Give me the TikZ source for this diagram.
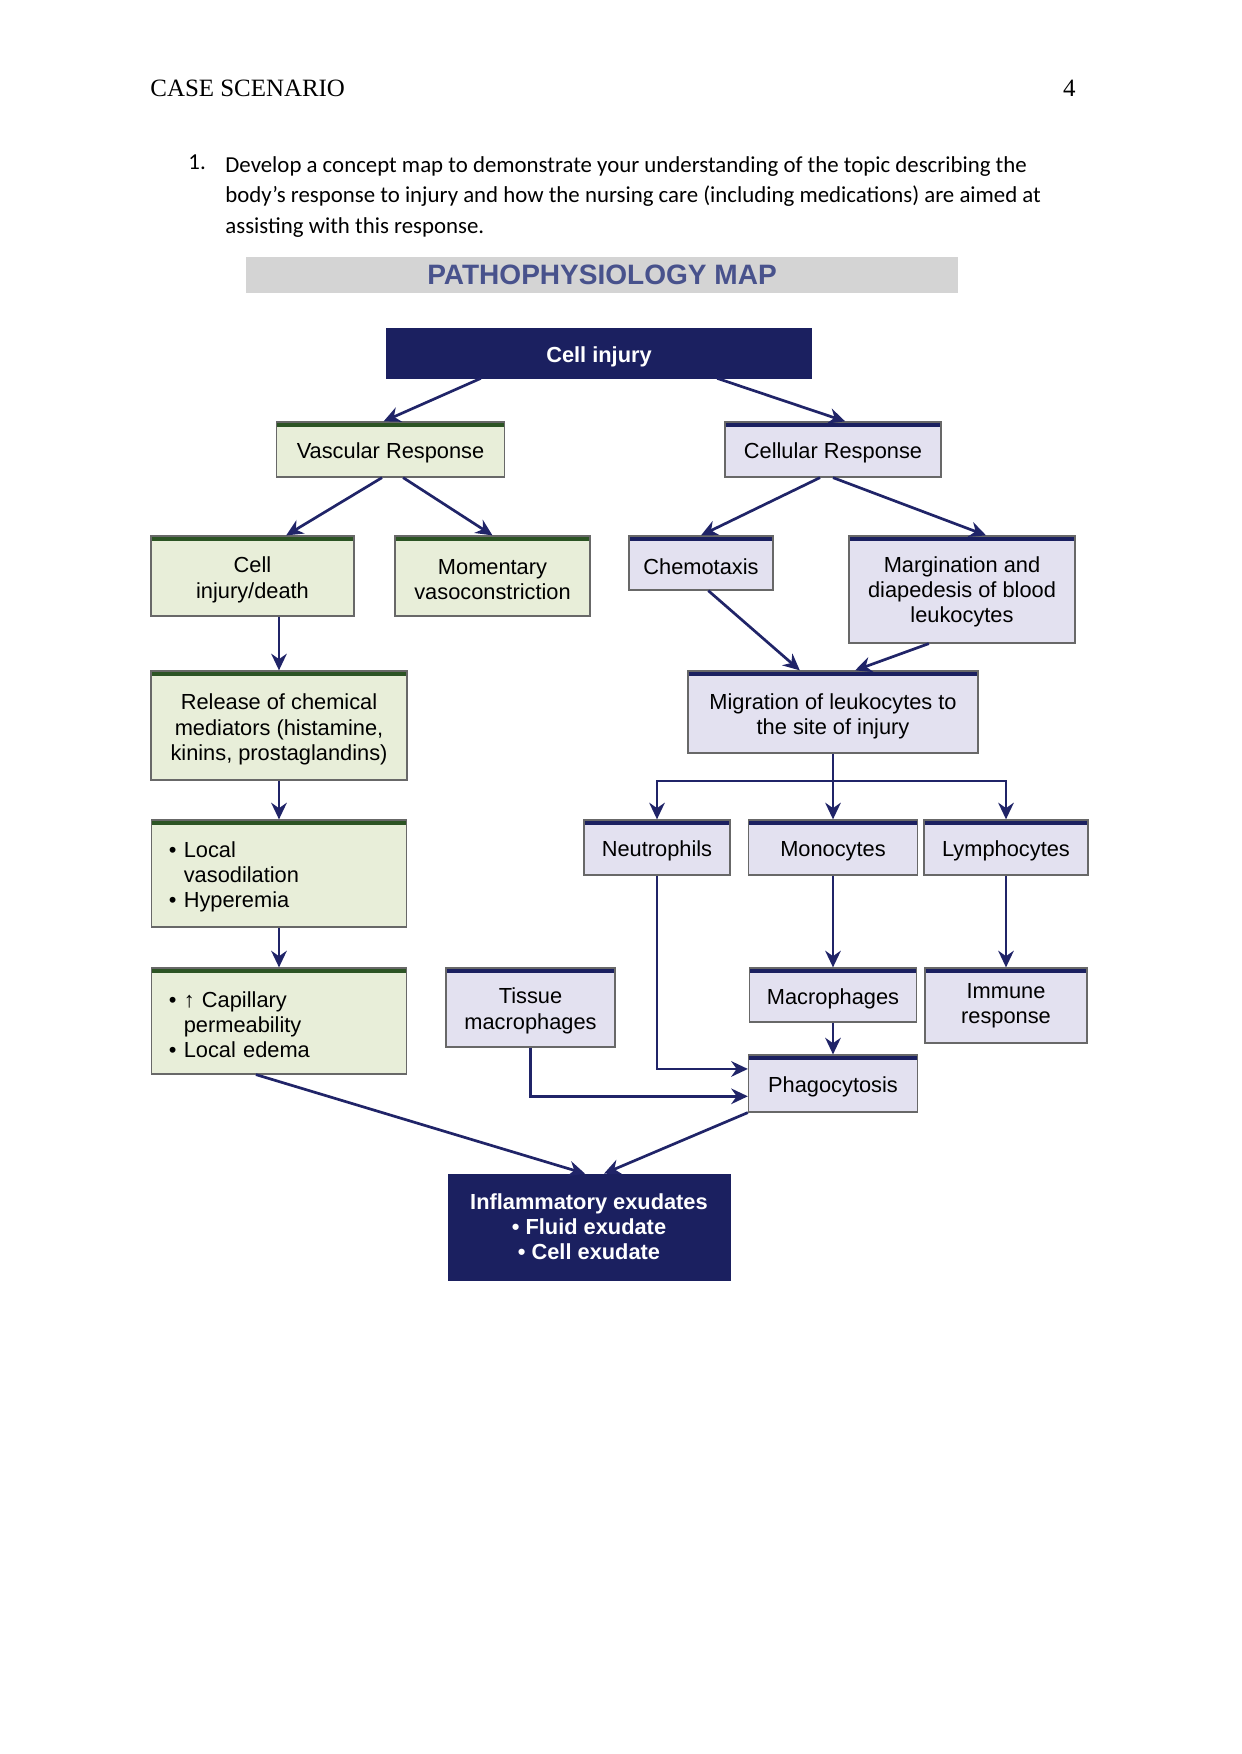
\documentclass[tikz,border=0pt]{standalone}
\usepackage{fontspec}
\setmainfont{Liberation Serif}
\newfontfamily\diafont{Liberation Sans}
\newfontfamily\bodyfont{Carlito}
\usetikzlibrary{arrows.meta, calc}
\definecolor{mapnavy}{RGB}{27,32,96}
\definecolor{linenavy}{RGB}{32,36,104}
\definecolor{vasfill}{RGB}{232,238,217}
\definecolor{vasbar}{RGB}{44,84,36}
\definecolor{celfill}{RGB}{227,225,240}
\definecolor{boxedge}{RGB}{104,104,104}
\definecolor{titlegray}{RGB}{212,212,212}
\definecolor{titleblue}{RGB}{72,82,140}
\newcommand{\boxfont}{\diafont\fontsize{10.5}{12.1}\selectfont}
\tikzset{
    % text sits a little below the middle, under the top bar
    barpad/.style={execute at begin node={\rule{0pt}{10.9pt}}},
    textdrop/.style={text height=#1, text depth=2.2pt},
    titlebar/.style={rectangle, fill=titlegray, text=titleblue, inner sep=0pt, font=\diafont\bfseries\fontsize{13.5}{16}\selectfont},
    darkbox/.style={rectangle, fill=mapnavy, draw=mapnavy, text=white, align=center, inner sep=2pt, font=\boxfont\bfseries},
    vasbox/.style={rectangle, draw=boxedge, fill=vasfill, line width=0.6pt, align=center, inner sep=2pt, font=\boxfont, barpad,
        path picture={\fill[vasbar] (path picture bounding box.north west) rectangle ([yshift=-2.2pt]path picture bounding box.north east);}},
    celbox/.style={rectangle, draw=boxedge, fill=celfill, line width=0.6pt, align=center, inner sep=2pt, font=\boxfont, barpad,
        path picture={\fill[mapnavy] (path picture bounding box.north west) rectangle ([yshift=-2.2pt]path picture bounding box.north east);}},
    bullets/.style={align=left, text width=106pt, inner xsep=8.4pt},
    arr/.style={-{Stealth[length=8pt, width=7.5pt, inset=2.6pt]}, line width=1.3pt, draw=linenavy},
    link/.style={line width=1.3pt, draw=linenavy},
    pagetext/.style={inner sep=0pt, font=\fontsize{12}{14}\selectfont},
    bodytext/.style={inner sep=0pt, font=\bodyfont\fontsize{11}{14.65}\selectfont}
}

\begin{document}
\begin{tikzpicture}[x=0.016922cm, y=-0.016922cm]
    \useasboundingbox (0,0) rectangle (1241,1754);
    % page header and question
    \node[pagetext, anchor=base west] (hdr) at (150,97) {CASE SCENARIO};
    \node[pagetext, anchor=base east] (pgno) at (1076,97) {4};
    \node[bodytext, anchor=base west] (qnum) at (188,170) {1.};
    \node[bodytext, anchor=north west, align=left] (qtext) at (225,156) {Develop a concept map to demonstrate your understanding of the topic describing the\\body’s response to injury and how the nursing care (including medications) are aimed at\\assisting with this response.};

    % map
    \node[titlebar, minimum width=342.8pt, minimum height=17.3pt] (maptitle) at (602,275) {PATHOPHYSIOLOGY MAP};
    \node[darkbox, barpad, minimum width=205pt, minimum height=24pt] (cinj) at (599,353) {Cell injury};
    \node[vasbox, minimum width=110pt, minimum height=26.5pt] (vas) at (390.5,449.5) {Vascular Response};
    \node[celbox, minimum width=104pt, minimum height=26.5pt] (cel) at (833,449.5) {Cellular Response};

    \node[vasbox, textdrop=23.5pt, minimum width=97.7pt, minimum height=38.5pt] (cid) at (252.5,576) {Cell\\injury/death};
    \node[vasbox, textdrop=24.5pt, minimum width=93.9pt, minimum height=38.5pt] (mom) at (492.5,576) {Momentary\\vasoconstriction};
    \node[celbox, minimum width=69.3pt, minimum height=26pt] (chem) at (701,563) {Chemotaxis};
    \node[celbox, textdrop=34pt, minimum width=108.8pt, minimum height=51.5pt] (marg) at (962,589.5) {Margination and\\diapedesis of blood\\leukocytes};

    \node[vasbox, textdrop=35.6pt, minimum width=123.2pt, minimum height=52.5pt] (rel) at (279,725.5) {Release of chemical\\mediators (histamine,\\kinins, prostaglandins)};
    \node[celbox, textdrop=24pt, minimum width=139.6pt, minimum height=39.5pt] (mig) at (833,712) {Migration of leukocytes to\\the site of injury};

    \node[vasbox, bullets, minimum height=51.5pt] (vdil) at (279,873.5) {\textbullet\ Local\\\phantom{\textbullet\ }vasodilation\\\textbullet\ Hyperemia};
    \node[celbox, minimum width=70.3pt, minimum height=26.5pt] (neu) at (657,847.5) {Neutrophils};
    \node[celbox, minimum width=81.4pt, minimum height=26.5pt] (mono) at (833,847.5) {Monocytes};
    \node[celbox, minimum width=79pt, minimum height=26.5pt] (lym) at (1006,847.5) {Lymphocytes};

    \node[vasbox, bullets, minimum height=51pt] (perm) at (279,1021) {\textbullet\ ↑ Capillary\\\phantom{\textbullet\ }permeability\\\textbullet\ Local edema};
    \node[celbox, textdrop=22.9pt, minimum width=81.4pt, minimum height=38pt] (tis) at (530.5,1007.5) {Tissue\\macrophages};
    \node[celbox, minimum width=80.4pt, minimum height=26pt] (mac) at (833,995) {Macrophages};
    \node[celbox, minimum width=78pt, minimum height=36.1pt] (imm) at (1006,1005.5) {Immune\\response};
    \node[celbox, minimum width=81.4pt, minimum height=27.4pt] (pha) at (833,1083.5) {Phagocytosis};

    \node[darkbox, minimum width=135.8pt, minimum height=51pt] (exu) at (589,1227) {Inflammatory exudates\\\textbullet\ Fluid exudate\\\textbullet\ Cell exudate};

    \coordinate (split) at (833,781);

    % connectors
    \draw[arr] ($(cinj.south west)!0.223!(cinj.south east)$) -- ($(vas.north west)!0.47!(vas.north east)$);
    \draw[arr] ($(cinj.south west)!0.777!(cinj.south east)$) -- ($(cel.north west)!0.556!(cel.north east)$);
    \draw[arr] ($(vas.south west)!0.463!(vas.south east)$) -- ($(cid.north west)!0.665!(cid.north east)$);
    \draw[arr] ($(vas.south west)!0.555!(vas.south east)$) -- (mom.north);
    \draw[arr] ($(cel.south west)!0.44!(cel.south east)$) -- (chem.north);
    \draw[arr] (cel.south) -- ($(marg.north west)!0.606!(marg.north east)$);
    \draw[arr] (cid.south -| rel.north) -- (rel.north);
    \draw[arr] ($(chem.south west)!0.55!(chem.south east)$) -- ($(mig.north west)!0.386!(mig.north east)$);
    \draw[arr] ($(marg.south west)!0.354!(marg.south east)$) -- ($(mig.north west)!0.576!(mig.north east)$);
    \draw[arr] (rel.south) -- (vdil.north);
    \draw[link] (mig.south) -- (split);
    \draw[arr] (split) -| (neu.north);
    \draw[arr] (split) -- (mono.north);
    \draw[arr] (split) -| (lym.north);
    \draw[arr] (vdil.south) -- (perm.north);
    \draw[arr] (mono.south) -- (mac.north);
    \draw[arr] (lym.south) -- (imm.north);
    \draw[arr] (mac.south) -- (pha.north);
    \draw[arr] (neu.south) |- ($(pha.north west)!0.25!(pha.south west)$);
    \draw[arr] (tis.south) |- ($(pha.north west)!0.72!(pha.south west)$);
    \draw[arr] ($(perm.south west)!0.41!(perm.south east)$) -- ($(exu.north west)!0.486!(exu.north east)$);
    \draw[arr] (pha.south west) -- ($(exu.north west)!0.553!(exu.north east)$);
\end{tikzpicture}
\end{document}
